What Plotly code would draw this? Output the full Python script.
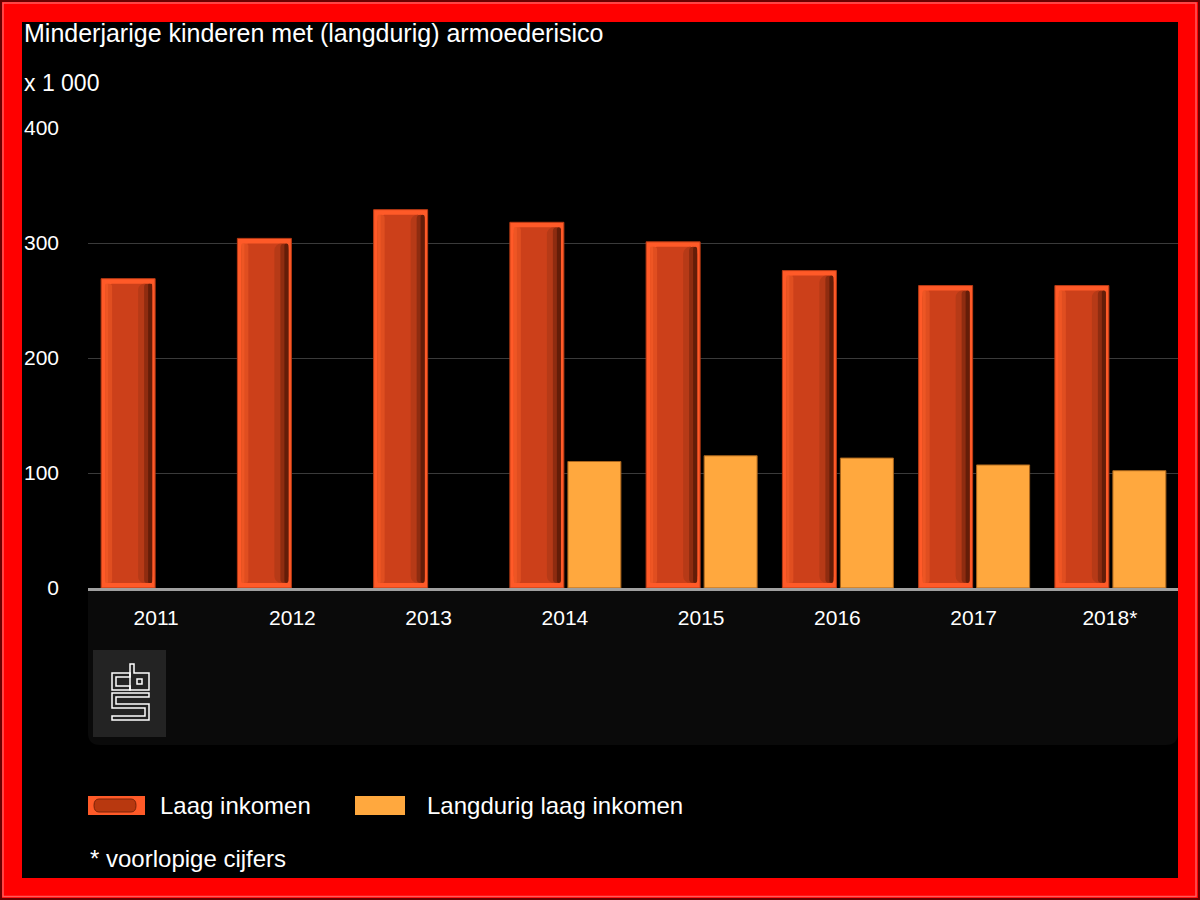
import plotly.graph_objects as go

# ---------------- data ----------------
years = ["2011", "2012", "2013", "2014", "2015", "2016", "2017", "2018*"]
laag_inkomen = [269, 304, 329, 318, 301, 276, 263, 263]
langdurig_laag_inkomen = [None, None, None, 110, 115, 113, 107, 102]
y_ticks = [0, 100, 200, 300, 400]

title_text = "Minderjarige kinderen met (langdurig) armoederisico"
unit_text = "x 1 000"
legend_names = ["Laag inkomen", "Langdurig laag inkomen"]
footnote_text = "* voorlopige cijfers"

# ---------------- layout helpers (pixel -> paper) ----------------
W, H = 1200, 900
PL, PR, PT, PB = 88, 1178, 128, 588
Y_MAX = 400
CAT_PX = (PR - PL) / len(years)          # pixels per category
UNIT_PX = (PB - PT) / Y_MAX              # pixels per y unit


def px(x):
    return (x - PL) / (PR - PL)


def py(y):
    return (PB - y) / (PB - PT)


def cu(p):
    """pixel offset -> category units"""
    return p / CAT_PX


FONT = "Liberation Sans, Arial, sans-serif"
RED_BRIGHT = "#FF5A28"
RED_DARK = "#CC401A"
ORANGE = "#FFA83E"

# inset of the glossy inner body of the "Laag inkomen" bars (style only)
INSET = 5 / UNIT_PX
inner_len = [v - 2 * INSET for v in laag_inkomen]
inner_base = [INSET] * len(laag_inkomen)

fig = go.Figure()

# outer bright body
fig.add_trace(go.Bar(
    name=legend_names[0], x=years, y=laag_inkomen,
    offset=cu(-55), width=cu(54),
    marker=dict(color=RED_BRIGHT, line=dict(color="#B83A14", width=1)),
    showlegend=False,
))
# inner body + shading strips (style layers of the same bars)
shade_layers = [
    (-51, 47, RED_DARK, 7),
    (-51, 7, "#E04E20", 4),
    (-51, 3, "#EE5624", 2),
    (-18, 14, "#B63A17", 7),
    (-12, 8, "#8E2C10", 5),
    (-8, 4, "#641D08", 3),
]
for off, wid, col, cr in shade_layers:
    fig.add_trace(go.Bar(
        x=years, y=inner_len, base=inner_base,
        offset=cu(off), width=cu(wid),
        marker=dict(color=col, line=dict(width=0), cornerradius=cr),
        showlegend=False, hoverinfo="skip",
    ))
# long-term bars
fig.add_trace(go.Bar(
    name=legend_names[1], x=years, y=langdurig_laag_inkomen,
    offset=cu(3), width=cu(53),
    marker=dict(color=ORANGE, line=dict(color="#A8641C", width=1)),
    showlegend=False,
))

shapes = []
# black inner canvas inside red frame
shapes.append(dict(type="rect", xref="paper", yref="paper", layer="below",
                   x0=px(22), x1=px(1178), y0=py(878), y1=py(22),
                   fillcolor="#000000", line=dict(width=0)))
# frame bevel lines
shapes.append(dict(type="rect", xref="paper", yref="paper", layer="below",
                   x0=px(1), x1=px(1199), y0=py(899), y1=py(1),
                   fillcolor="rgba(0,0,0,0)", line=dict(color="#6a0000", width=2)))
shapes.append(dict(type="rect", xref="paper", yref="paper", layer="below",
                   x0=px(3), x1=px(1196), y0=py(896.5), y1=py(3),
                   fillcolor="rgba(0,0,0,0)", line=dict(color="#ff5a5a", width=1.5)))

# lower dark panel with rounded bottom corners
r = 12
x0, x1, y0, y1 = 88, 1178, 590, 745
path = (f"M {px(x0)},{py(y0)} L {px(x1)},{py(y0)} L {px(x1)},{py(y1 - r)} "
        f"Q {px(x1)},{py(y1)} {px(x1 - r)},{py(y1)} L {px(x0 + r)},{py(y1)} "
        f"Q {px(x0)},{py(y1)} {px(x0)},{py(y1 - r)} Z")
shapes.append(dict(type="path", xref="paper", yref="paper", layer="below",
                   path=path, fillcolor="#0a0a0a", line=dict(width=0)))
# logo box
shapes.append(dict(type="rect", xref="paper", yref="paper", layer="below",
                   x0=px(93), x1=px(166), y0=py(737), y1=py(650),
                   fillcolor="#232323", line=dict(width=0)))


def poly(points):
    s = "M " + " L ".join(f"{px(a)},{py(b)}" for a, b in points) + " Z"
    return dict(type="path", xref="paper", yref="paper", layer="above", path=s,
                fillcolor="rgba(0,0,0,0)", line=dict(color="#ffffff", width=1.5))


# cbs logo glyph
shapes.append(poly([(130, 673), (112, 673), (112, 690), (130, 690), (130, 686),
                    (116, 686), (116, 677), (130, 677)]))
shapes.append(poly([(130, 664), (134, 664), (134, 673), (149, 673), (149, 690), (130, 690)]))
shapes.append(poly([(137, 679), (142, 679), (142, 684), (137, 684)]))
shapes.append(poly([(149, 693), (112, 693), (112, 708), (145, 708), (145, 716), (112, 716),
                    (112, 720), (149, 720), (149, 704), (116, 704), (116, 697), (149, 697)]))

# legend swatches
shapes.append(dict(type="rect", xref="paper", yref="paper", layer="above",
                   x0=px(88), x1=px(145), y0=py(815), y1=py(796),
                   fillcolor=RED_BRIGHT, line=dict(width=0)))
pr = 5
lx0, lx1, ly0, ly1 = 94, 136, 799, 812
pill = (f"M {px(lx0 + pr)},{py(ly0)} L {px(lx1 - pr)},{py(ly0)} "
        f"Q {px(lx1)},{py(ly0)} {px(lx1)},{py((ly0 + ly1) / 2)} "
        f"Q {px(lx1)},{py(ly1)} {px(lx1 - pr)},{py(ly1)} L {px(lx0 + pr)},{py(ly1)} "
        f"Q {px(lx0)},{py(ly1)} {px(lx0)},{py((ly0 + ly1) / 2)} "
        f"Q {px(lx0)},{py(ly0)} {px(lx0 + pr)},{py(ly0)} Z")
shapes.append(dict(type="path", xref="paper", yref="paper", layer="above",
                   path=pill, fillcolor="#B8380F", line=dict(color="#7a2208", width=1)))
shapes.append(dict(type="rect", xref="paper", yref="paper", layer="above",
                   x0=px(355), x1=px(405), y0=py(815), y1=py(796),
                   fillcolor=ORANGE, line=dict(width=0)))

annotations = [
    dict(text=title_text, x=px(22), y=py(33), xref="paper", yref="paper",
         xanchor="left", yanchor="middle", showarrow=False,
         font=dict(family=FONT, size=25, color="white")),
    dict(text=unit_text, x=px(22), y=py(83), xref="paper", yref="paper",
         xanchor="left", yanchor="middle", showarrow=False,
         font=dict(family=FONT, size=23, color="white")),
    dict(text=legend_names[0], x=px(158), y=py(805), xref="paper", yref="paper",
         xanchor="left", yanchor="middle", showarrow=False,
         font=dict(family=FONT, size=24, color="white")),
    dict(text=legend_names[1], x=px(425), y=py(805), xref="paper", yref="paper",
         xanchor="left", yanchor="middle", showarrow=False,
         font=dict(family=FONT, size=24, color="white")),
    dict(text=footnote_text, x=px(88), y=py(858), xref="paper", yref="paper",
         xanchor="left", yanchor="middle", showarrow=False,
         font=dict(family=FONT, size=24, color="white")),
]

fig.update_layout(
    width=W, height=H,
    margin=dict(l=PL, r=W - PR, t=PT, b=H - PB, pad=0),
    paper_bgcolor="#FF0000",
    plot_bgcolor="rgba(0,0,0,0)",
    barmode="overlay",
    showlegend=False,
    shapes=shapes,
    annotations=annotations,
    font=dict(family=FONT, color="white"),
    xaxis=dict(
        type="category", range=[-0.5, 7.5],
        showgrid=False, zeroline=False,
        showline=True, linecolor="#A0A0A0", linewidth=3,
        ticks="", ticklabelstandoff=9,
        tickfont=dict(family=FONT, size=21, color="white"),
    ),
    yaxis=dict(
        range=[0, Y_MAX], tickvals=y_ticks,
        showgrid=True, gridcolor="#3a3a3a", gridwidth=1,
        zeroline=False, showline=False, ticks="",
        ticklabelstandoff=28,
        tickfont=dict(family=FONT, size=21, color="white"),
    ),
)

fig.write_html("out.html")
